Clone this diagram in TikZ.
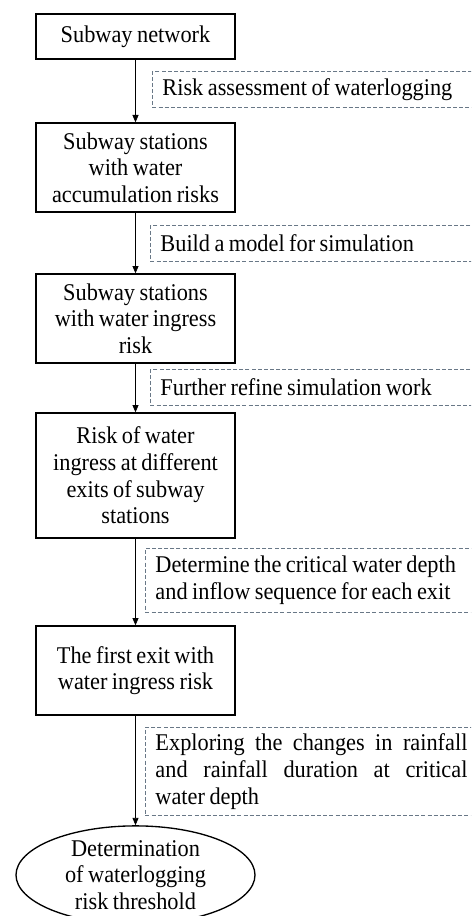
\documentclass[tikz,border=0pt]{standalone}
\usepackage{fontspec}
\setmainfont{Liberation Serif}[FakeStretch=0.93,WordSpace=0.8]
\usetikzlibrary{arrows.meta,shapes.geometric}
\definecolor{dashcol}{RGB}{105,120,135}
\newcommand{\justline}[1]{\leavevmode\hbox to 234pt{#1}}
\begin{document}
\begin{tikzpicture}[x=0.75pt,y=-0.75pt,
  every node/.style={font=\fontsize{18pt}{20pt}\selectfont},
  stepbox/.style={draw=black,line width=1pt,rectangle,minimum width=149.25pt,align=center,inner sep=0pt},
  endbox/.style={draw=black,line width=1pt,ellipse,minimum width=179.25pt,minimum height=69pt,align=center,inner sep=0pt},
  notebox/.style={draw=dashcol,line width=0.7pt,dash pattern=on 3pt off 1.6pt,rectangle,anchor=north west,text width=234pt,inner xsep=7.5pt,inner ysep=0pt,align=justify},
  arr/.style={line width=0.6pt,-{Triangle[length=5.5pt,width=4.5pt]}}]
\useasboundingbox (0,0) rectangle (471,916);
\clip (0,0) rectangle (471,916);
\fill[white] (0,0) rectangle (471,916);

\node[stepbox,minimum height=33.75pt] (b1) at (135.5,36.5) {Subway network};
\node[stepbox,minimum height=66.75pt] (b2) at (135.5,167.5) {Subway stations\\with water\\accumulation risks};
\node[stepbox,minimum height=66.75pt] (b3) at (135.5,318.5) {Subway stations\\with water ingress\\risk};
\node[stepbox,minimum height=93.75pt] (b4) at (135.5,475.5) {Risk of water\\ingress at different\\exits of subway\\stations};
\node[stepbox,minimum height=66.75pt] (b5) at (135.5,670.5) {The first exit with\\water ingress risk};
\node[endbox] (b6) at (135.5,875) {Determination\\of waterlogging\\risk threshold};

\draw[arr] (b1.south) -- (b2.north);
\draw[arr] (b2.south) -- (b3.north);
\draw[arr] (b3.south) -- (b4.north);
\draw[arr] (b4.south) -- (b5.north);
\draw[arr] (b5.south) -- (b6.north);

\node[notebox,minimum height=27pt] (n1) at (152,71) {Risk assessment of waterlogging};
\node[notebox,minimum height=27pt] (n2) at (150,225) {Build a model for simulation};
\node[notebox,minimum height=27pt] (n3) at (150,369) {Further refine simulation work};
\node[notebox,minimum height=48pt] (n4) at (145,548) {Determine the critical water depth\\and inflow sequence for each exit};
\node[notebox,minimum height=66pt] (n5) at (145,727) {\justline{Exploring\hfill the\hfill changes\hfill in\hfill rainfall}\\\justline{and\hfill rainfall\hfill duration\hfill at\hfill critical}\\water depth};
\end{tikzpicture}
\end{document}
